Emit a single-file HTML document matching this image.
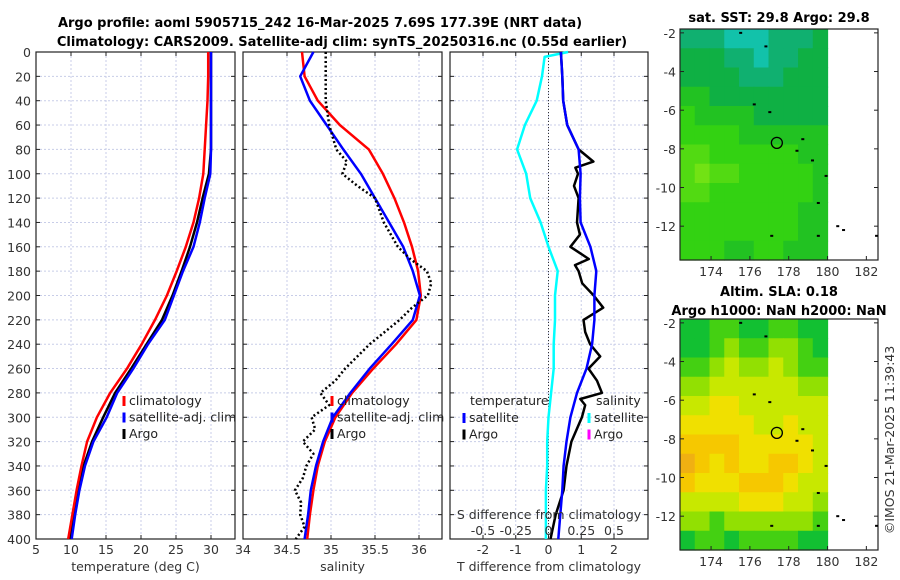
<!DOCTYPE html>
<html><head><meta charset="utf-8">
<style>
html,body{margin:0;padding:0;background:#fff;}
svg{display:block;font-family:"DejaVu Sans","Liberation Sans",sans-serif;}
.tk{font-size:12.5px;fill:#333;}
.ttl{font-size:13px;font-weight:bold;fill:#000;}
.lg{font-size:12.5px;fill:#222;}
</style></head>
<body>
<svg id="fig" width="900" height="580" viewBox="0 0 900 580" xmlns="http://www.w3.org/2000/svg">
<text class="ttl" x="320" y="27" text-anchor="middle">Argo profile: aoml 5905715_242 16-Mar-2025 7.69S 177.39E (NRT data)</text>
<text class="ttl" x="342" y="46" text-anchor="middle">Climatology: CARS2009. Satellite-adj clim: synTS_20250316.nc (0.55d earlier)</text>
<text class="ttl" x="779" y="22" text-anchor="middle">sat. SST: 29.8 Argo: 29.8</text>
<text class="ttl" x="779" y="296" text-anchor="middle">Altim. SLA: 0.18</text>
<text class="ttl" x="779" y="315" text-anchor="middle">Argo h1000: NaN h2000: NaN</text>
<text class="tk" transform="translate(894,440) rotate(-90)" text-anchor="middle">©IMOS 21-Mar-2025 11:39:43</text>
</svg>
<script>
// ---- data ----
const depths = [0,20,40,60,80,100,120,140,160,180,200,220,240,260,280,300,320,340,360,380,400];
const tempClim = [29.6,29.6,29.5,29.3,29.1,28.9,28.3,27.5,26.4,25.1,23.7,22.0,20.1,18.0,15.6,13.7,12.3,11.5,10.8,10.2,9.6];
const tempSat = [30.0,30.0,30.0,30.0,30.0,29.9,29.1,28.4,27.5,26.0,24.7,23.4,21.0,18.9,16.6,15.1,13.2,12.0,11.2,10.6,10.1];
const tempArgo = [30.0,30.0,30.0,30.0,30.0,29.7,28.8,28.0,27.0,25.8,24.5,23.0,20.8,18.6,16.3,14.6,13.0,11.8,10.9,10.3,9.8];
const salClim = [34.67,34.70,34.85,35.10,35.43,35.59,35.72,35.83,35.92,35.99,36.02,35.97,35.74,35.48,35.24,35.05,34.93,34.85,34.80,34.76,34.73];
const salSat = [34.80,34.65,34.76,34.95,35.14,35.34,35.50,35.66,35.82,35.93,36.01,35.93,35.69,35.44,35.22,35.02,34.91,34.83,34.77,34.74,34.70];
const argoSalDepths = [0,20,40,60,80,90,100,110,120,140,160,170,180,190,200,210,220,240,250,260,270,280,290,300,310,320,330,340,350,360,370,380,390,400];
const salArgo = [34.94,34.94,34.94,34.98,35.06,35.18,35.13,35.30,35.50,35.60,35.76,35.90,36.09,36.14,36.10,35.92,35.78,35.44,35.30,35.16,35.05,34.88,34.98,34.78,34.82,34.68,34.80,34.72,34.68,34.59,34.66,34.65,34.70,34.60];
const sDiffDepths = [0,4,20,40,60,80,100,120,140,160,180,200,220,240,260,280,300,320,340,360,380,400];
const sDiffSat = [0.15,-0.03,-0.05,-0.09,-0.18,-0.24,-0.17,-0.14,-0.06,0,0.07,0.05,0.05,0.04,0.04,0.02,0.0,-0.01,-0.01,-0.02,-0.02,-0.02];
const tDiffSat = [0.38,0.42,0.45,0.57,0.92,0.98,0.96,0.98,1.28,1.46,1.40,1.40,1.33,1.16,0.87,0.67,0.55,0.46,0.42,0.36,0.30];
const argoTDiffDepths = [0,20,40,60,80,90,95,100,110,120,140,150,160,170,175,180,190,200,210,220,230,240,250,260,270,280,285,290,300,320,340,360,380,400];
const tDiffArgo = [0.38,0.42,0.45,0.57,0.92,1.37,0.82,0.90,0.78,0.92,0.87,0.96,0.67,1.23,0.81,0.92,1.03,1.38,1.67,1.07,1.12,1.27,1.58,1.22,1.48,1.63,0.97,1.12,1.02,0.70,0.55,0.46,0.22,0.06];
const depthTicks = [0,20,40,60,80,100,120,140,160,180,200,220,240,260,280,300,320,340,360,380,400];
const tempTicks = [5,10,15,20,25,30];
const salTicks = [34,34.5,35,35.5,36];
const salTickLabels = ["34","34.5","35","35.5","36"];
const tdTicks = [-2,-1,0,1,2];
const sdTicks = [-0.5,-0.25,0,0.25,0.5];
const sdTickLabels = ["-0.5","-0.25","0","0.25","0.5"];
const lonTicks = [174,176,178,180,182];
const latTicks = [-2,-4,-6,-8,-10,-12];
const sstPalette = ['#12c2aa','#10b070','#0fb044','#22c222','#33d212','#52da12','#72e214'];
const sstField = [
[1,1,1,0,0,0,1,1,1,2],[2,2,2,1,1,0,1,1,2,2],[2,2,2,2,1,1,1,2,2,2],[3,3,2,2,2,2,2,2,2,2],
[4,3,3,3,3,2,2,2,2,2],[4,4,4,4,3,3,3,3,3,3],[5,5,4,4,4,4,4,4,3,3],[5,6,5,5,4,4,4,4,4,3],
[5,5,4,4,4,4,4,4,4,3],[4,4,4,4,4,4,4,4,3,3],[4,4,4,4,4,4,4,4,3,3],[4,4,4,3,3,4,4,3,3,3]];
const slaPalette = ['#12c032','#44d012','#92e002','#c8e800','#f0e000','#f6c800','#f0b012'];
const slaField = [
[0,0,1,1,0,0,1,1,0,0],[0,0,1,2,1,1,2,2,1,0],[1,1,2,3,2,2,3,2,1,1],[2,2,3,3,3,3,3,3,2,2],
[3,3,4,4,3,3,3,3,3,3],[4,4,4,4,4,3,3,4,3,3],[5,5,5,5,4,4,4,4,4,3],[6,5,4,5,4,4,5,5,4,3],
[5,4,4,4,5,5,5,4,3,3],[3,3,3,3,4,4,4,3,3,2],[2,2,1,2,2,2,2,2,2,1],[0,1,1,0,1,1,1,1,0,0]];
const argoLon = 177.39, argoLat = -7.69;

// ---- helpers ----
const svg = document.getElementById('fig');
const NS = 'http://www.w3.org/2000/svg';
function mk(tag, attrs, parent){ const e=document.createElementNS(NS,tag); for(const k in attrs) e.setAttribute(k,attrs[k]); (parent||svg).appendChild(e); return e; }
const Y0=52, Y1=539;
const yD = d => Y0 + (d/400)*(Y1-Y0);
function lin(d0,d1,r0,r1){ return v => r0 + (v-d0)/(d1-d0)*(r1-r0); }

function panel(name, x0, x1, xs, xticks, xlabels, xtitle, showY){
  const g = mk('g',{});
  
  
  for(const d of depthTicks){
    const gl = mk('line',{x1:x0,x2:x1,y1:yD(d),y2:yD(d),stroke:'#c8cde8','stroke-width':1,'stroke-dasharray':'2,2'},g);
    
    
    mk('line',{x1:x0,x2:x0+4,y1:yD(d),y2:yD(d),stroke:'#222'},g);
    mk('line',{x1:x1-4,x2:x1,y1:yD(d),y2:yD(d),stroke:'#222'},g);
    if(showY){
      const t = mk('text',{x:x0-5,y:yD(d)+5,'text-anchor':'end',class:'tk'},g);
      t.textContent = d;
      
      
    }
  }
  xticks.forEach((v,i)=>{
    const x = xs(v);
    const gl = mk('line',{x1:x,x2:x,y1:Y0,y2:Y1,stroke:'#c8cde8','stroke-width':1,'stroke-dasharray':'2,2'},g);
    
    
    mk('line',{x1:x,x2:x,y1:Y1-4,y2:Y1,stroke:'#222'},g);
    mk('line',{x1:x,x2:x,y1:Y0,y2:Y0+4,stroke:'#222'},g);
    const t = mk('text',{x:x,y:554,'text-anchor':'middle',class:'tk'},g);
    t.textContent = xlabels[i];
    
    
  });
  const r = mk('rect',{x:x0,y:Y0,width:x1-x0,height:Y1-Y0,fill:'none',stroke:'#222','stroke-width':1.2},g);
  
  
  const tt = mk('text',{x:(x0+x1)/2,y:571,'text-anchor':'middle',class:'tk'},g);
  tt.textContent = xtitle;
  
  
  return g;
}
function line(g, xs, vals, ds, color, w, dash, name){
  const pts = vals.map((v,i)=> xs(v).toFixed(1)+','+yD(ds[i]).toFixed(1)).join(' ');
  const p = mk('polyline',{points:pts,fill:'none',stroke:color,'stroke-width':w,'stroke-linejoin':'round'},g);
  if(dash) p.setAttribute('stroke-dasharray',dash);
  
  
}
function legend(g, x, y, items){
  items.forEach((it,i)=>{
    const yy = y + i*16.5;
    const b = mk('line',{x1:x,x2:x,y1:yy-9,y2:yy+1,stroke:it[1],'stroke-width':3},g);
    
    
    const t = mk('text',{x:x+5,y:yy,class:'lg'},g);
    t.textContent = it[0];
    
    
  });
}

// ---- panel 1: temperature ----
const xT = lin(5,30,36,211);
const g1 = panel('temperature-panel',36,235,xT,tempTicks,tempTicks.map(String),'temperature (deg C)',true);
line(g1,xT,tempArgo,depths,'#000',2.5,null,'argo-temp-line');
line(g1,xT,tempClim,depths,'#f00',2.5,null,'clim-temp-line');
line(g1,xT,tempSat,depths,'#00f',2.5,null,'sat-temp-line');
legend(g1,124,405,[['climatology','#f00'],['satellite-adj. clim','#00f'],['Argo','#000']]);

// ---- panel 2: salinity ----
const xS = lin(34,36,243,419);
const g2 = panel('salinity-panel',243,442,xS,salTicks,salTickLabels,'salinity',false);
line(g2,xS,salClim,depths,'#f00',2.5,null,'clim-sal-line');
line(g2,xS,salSat,depths,'#00f',2.5,null,'sat-sal-line');
line(g2,xS,salArgo,argoSalDepths,'#000',2.5,'2,2.5','argo-sal-line');
legend(g2,332,405,[['climatology','#f00'],['satellite-adj. clim','#00f'],['Argo','#000']]);

// ---- panel 3: differences ----
const xTd = lin(-2,2,483,614);
const xSd = lin(-0.5,0.5,483,614);
const g3 = panel('difference-panel',450,648,xTd,tdTicks,tdTicks.map(String),'T difference from climatology',false);
const z = mk('line',{x1:xTd(0),x2:xTd(0),y1:Y0,y2:Y1,stroke:'#333','stroke-width':1,'stroke-dasharray':'1,2'},g3);


line(g3,xSd,sDiffSat,sDiffDepths,'#0ff',2.5,null,'sat-sdiff-line');
line(g3,xTd,tDiffArgo,argoTDiffDepths,'#000',2.5,null,'argo-tdiff-line');
line(g3,xTd,tDiffSat,depths,'#00f',2.5,null,'sat-tdiff-line');
const st = mk('text',{x:549,y:519,'text-anchor':'middle',class:'tk'},g3);
st.textContent='S difference from climatology';


sdTicks.forEach((v,i)=>{
  const t = mk('text',{x:xSd(v),y:535,'text-anchor':'middle',class:'tk'},g3);
  t.textContent = sdTickLabels[i];
  
  
});
let lt = mk('text',{x:470,y:405,class:'lg'},g3); lt.textContent='temperature';


legend(g3,464,422,[['satellite','#00f'],['Argo','#000']]);
lt = mk('text',{x:596,y:405,class:'lg'},g3); lt.textContent='salinity';


legend(g3,589,422,[['satellite','#0ff'],['Argo','#f0f']]);

// ---- maps ----
function map(name, top, field, pal){
  const L=680,R=878,T=top,B=top+231;
  const xl = lin(172.4,182.6,L,R), yl = lin(-1.8,-13.75,T,B);
  const g = mk('g',{});
  
  
  const nr = field.length, nc = field[0].length;
  const cw = (xl(180)-L)/nc, ch = (B-T)/nr;
  field.forEach((row,r)=>row.forEach((v,c)=>{
    const cell = mk('rect',{x:L+c*cw,y:T+r*ch,width:cw+0.6,height:ch+0.6,fill:pal[v]},g);
    
    
  }));
  const box = mk('rect',{x:L,y:T,width:R-L,height:B-T,fill:'none',stroke:'#222','stroke-width':1.2},g);
  
  
  lonTicks.forEach(v=>{
    mk('line',{x1:xl(v),x2:xl(v),y1:B,y2:B-4,stroke:'#222'},g);
    const t = mk('text',{x:xl(v),y:B+16,'text-anchor':'middle',class:'tk'},g);
    t.textContent=v;
    
    
  });
  latTicks.forEach(v=>{
    mk('line',{x1:L,x2:L+4,y1:yl(v),y2:yl(v),stroke:'#222'},g);
    mk('line',{x1:R-4,x2:R,y1:yl(v),y2:yl(v),stroke:'#222'},g);
    const t = mk('text',{x:L-4,y:yl(v)+5,'text-anchor':'end',class:'tk'},g);
    t.textContent=v;
    
    
  });
  [[175.5,-2],[176.8,-2.7],[176.2,-5.7],[177,-6.1],[178.4,-8.1],[178.7,-7.5],[179.2,-8.6],[179.9,-9.4],[179.5,-10.8],[177.1,-12.5],[179.5,-12.5],[180.5,-12],[180.8,-12.2],[182.5,-12.5]].forEach(p=>{
    const d = mk('rect',{x:xl(p[0])-1,y:yl(p[1])-1,width:3,height:2,fill:'#000'},g);
    
    
  });
  const c = mk('circle',{cx:xl(argoLon),cy:yl(argoLat),r:5.5,fill:'none',stroke:'#000','stroke-width':1.3},g);
  
  
}
map('sst-map',29,sstField,sstPalette);
map('sla-map',319,slaField,slaPalette);
</script>
</body></html>
